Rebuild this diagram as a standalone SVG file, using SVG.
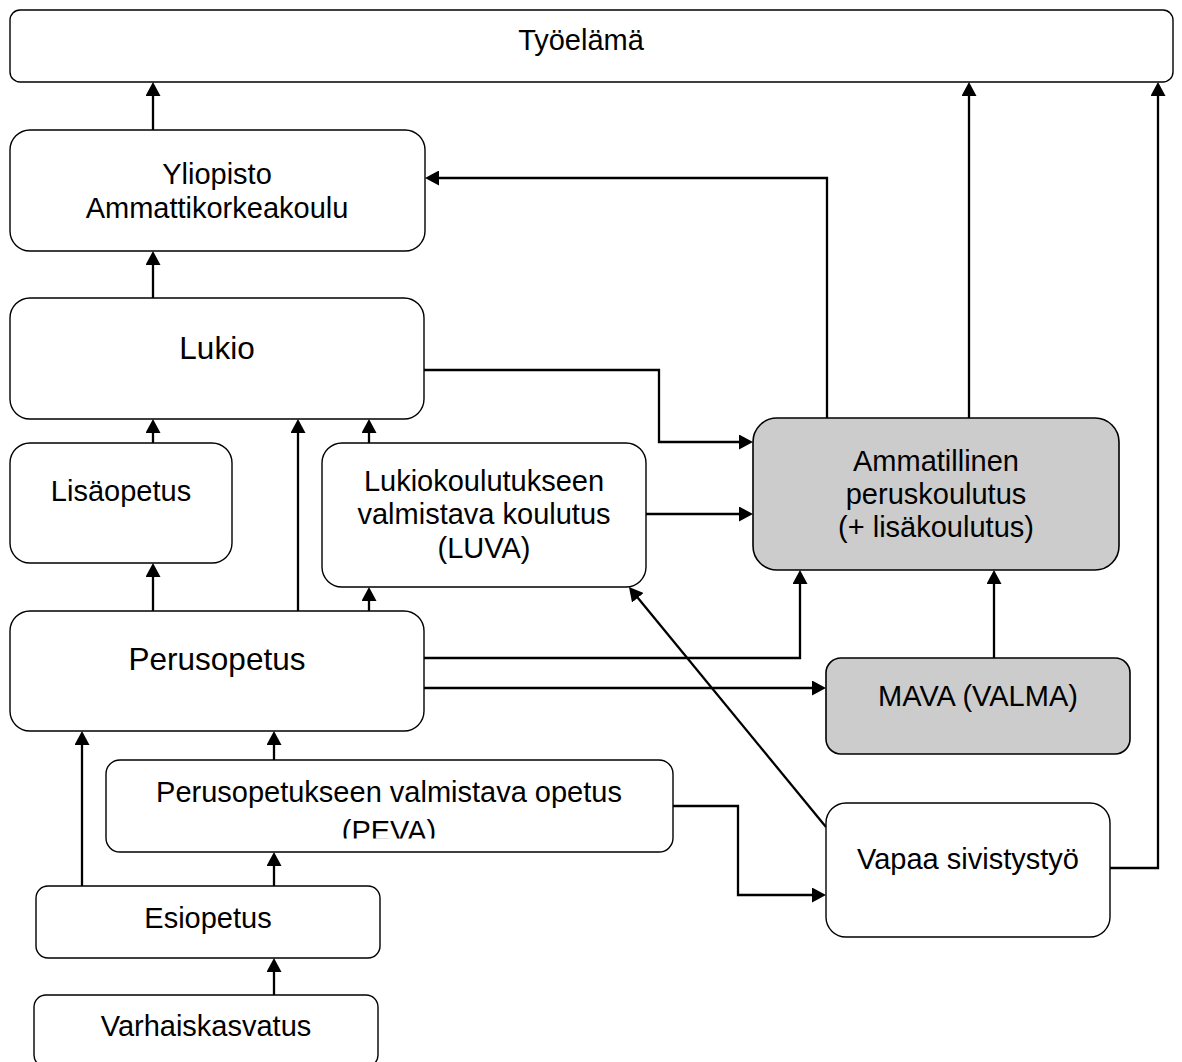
<svg xmlns="http://www.w3.org/2000/svg" width="1182" height="1062" viewBox="0 0 1182 1062">
<style>
.box{fill:#ffffff;stroke:#000000;stroke-width:1.4}
.grey{fill:#cccccc;stroke:#000000;stroke-width:1.6}
.t{font-family:"Liberation Sans",Arial,sans-serif;font-size:29px;fill:#000000;text-anchor:middle}
.big{font-size:31.5px}
.c{fill:none;stroke:#000000;stroke-width:2.3;marker-end:url(#arr)}
</style>
<defs>
<marker id="arr" markerUnits="userSpaceOnUse" markerWidth="14" markerHeight="15" viewBox="0 0 14 15" refX="4" refY="7.5" orient="auto">
<path d="M0,0 L14,7.5 L0,15 Z" fill="#000000"/>
</marker>
<clipPath id="pevaClip"><rect x="100" y="760" width="580" height="78.5"/></clipPath>
</defs>
<rect width="1182" height="1062" fill="#ffffff"/>
<g id="connectors">
<path class="c" d="M153,130 V92"/>
<path class="c" d="M153,298 V261"/>
<path class="c" d="M153,443 V429"/>
<path class="c" d="M153,611 V573"/>
<path class="c" d="M298,611 V429"/>
<path class="c" d="M369,443 V429"/>
<path class="c" d="M369,611 V597"/>
<path class="c" d="M424,370 H659 V442 H743"/>
<path class="c" d="M646,514 H743"/>
<path class="c" d="M827,418 V178 H435"/>
<path class="c" d="M969,418 V92"/>
<path class="c" d="M424,658 H800 V580"/>
<path class="c" d="M424,688 H816"/>
<path class="c" d="M994,658 V580"/>
<path class="c" d="M1110,868 H1158 V92"/>
<path class="c" d="M826,827 L635.3,594.7"/>
<path class="c" d="M673,806 H738 V895 H816"/>
<path class="c" d="M82,886 V741"/>
<path class="c" d="M274,760 V741"/>
<path class="c" d="M274,886 V862"/>
<path class="c" d="M274,995 V968"/>
</g>
<g id="tyoelama">
<rect class="box" x="10" y="10" width="1163" height="72" rx="10"/>
<text class="t" x="581" y="50">Työelämä</text>
</g>
<g id="yliopisto">
<rect class="box" x="10" y="130" width="415" height="121" rx="20"/>
<text class="t" x="217" y="184">Yliopisto</text>
<text class="t" x="217" y="218">Ammattikorkeakoulu</text>
</g>
<g id="lukio">
<rect class="box" x="10" y="298" width="414" height="121" rx="20"/>
<text class="t big" x="217" y="359">Lukio</text>
</g>
<g id="lisaopetus">
<rect class="box" x="10" y="443" width="222" height="120" rx="20"/>
<text class="t" x="121" y="501">Lisäopetus</text>
</g>
<g id="luva">
<rect class="box" x="322" y="443" width="324" height="144" rx="20"/>
<text class="t" x="484" y="491">Lukiokoulutukseen</text>
<text class="t" x="484" y="524">valmistava koulutus</text>
<text class="t" x="484" y="558">(LUVA)</text>
</g>
<g id="ammatillinen">
<rect class="grey" x="753" y="418" width="366" height="152" rx="24"/>
<text class="t" x="936" y="471">Ammatillinen</text>
<text class="t" x="936" y="504">peruskoulutus</text>
<text class="t" x="936" y="537">(+ lisäkoulutus)</text>
</g>
<g id="perusopetus">
<rect class="box" x="10" y="611" width="414" height="120" rx="20"/>
<text class="t big" x="217" y="670">Perusopetus</text>
</g>
<g id="mava">
<rect class="grey" x="826" y="658" width="304" height="96" rx="15"/>
<text class="t" x="978" y="706">MAVA (VALMA)</text>
</g>
<g id="peva">
<rect class="box" x="106" y="760" width="567" height="92" rx="14"/>
<g clip-path="url(#pevaClip)">
<text class="t" x="389" y="802">Perusopetukseen valmistava opetus</text>
<text class="t" x="389" y="841">(PEVA)</text>
</g>
</g>
<g id="vapaa">
<rect class="box" x="826" y="803" width="284" height="134" rx="20"/>
<text class="t" x="968" y="869">Vapaa sivistystyö</text>
</g>
<g id="esiopetus">
<rect class="box" x="36" y="886" width="344" height="72" rx="12"/>
<text class="t" x="208" y="928">Esiopetus</text>
</g>
<g id="varhaiskasvatus">
<rect class="box" x="34" y="995" width="344" height="72" rx="12"/>
<text class="t" x="206" y="1036">Varhaiskasvatus</text>
</g>
</svg>
